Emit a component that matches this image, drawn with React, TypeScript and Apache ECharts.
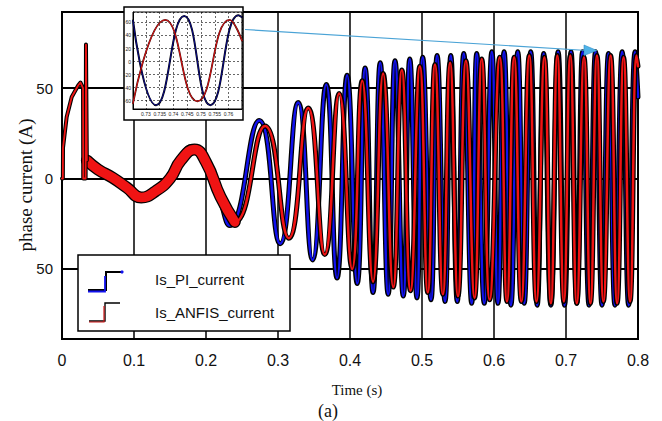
import React, { useEffect, useRef } from 'react';
import * as echarts from 'echarts';

// ---- data ----
// shared start-up transient (both controllers coincide), time (s) / current (A)
const START_T = [0, 0.0012, 0.0014, 0.0065, 0.0135, 0.0226, 0.0257, 0.0292, 0.0295, 0.0328, 0.0333, 0.0345];
const START_V = [0, 0, 17, 34, 45, 51.5, 53, 50, 0, 0, 74, 10];

// Is_PI_current after start-up (points and extrema)
const PI_T = [0.0345, 0.05, 0.07, 0.09, 0.11, 0.13, 0.15, 0.165, 0.18, 0.2, 0.218, 0.233, 0.274, 0.303, 0.328, 0.348,
  0.367, 0.382, 0.396, 0.41, 0.421, 0.432, 0.442, 0.453, 0.4625, 0.474, 0.483, 0.493, 0.501, 0.5125, 0.521, 0.532,
  0.54, 0.549, 0.558, 0.569, 0.576, 0.5865, 0.597, 0.6055, 0.614, 0.6235, 0.633, 0.642, 0.651, 0.66, 0.669, 0.679,
  0.689, 0.698, 0.707, 0.715, 0.723, 0.732, 0.741, 0.75, 0.759, 0.768, 0.778, 0.787, 0.796, 0.8];
const PI_V = [10, 5, 0, -5.5, -11, -7, 1, 12, 17.5, 8, -10, -26, 32, -36, 42, -45,
  52, -55, 57, -58, 61, -63, 64, -64, 65, -65, 66, -66, 67, -67, 68, -68,
  68, -68, 69, -69, 69, -69, 70, -69, 70, -70, 70, -69, 70, -70, 69, -70,
  70, -70, 70, -69, 70, -70, 70, -70, 69, -70, 70, -70, 70, 45];

// Is_ANFIS_current after start-up
const ANFIS_T = [0.0345, 0.05, 0.07, 0.09, 0.11, 0.13, 0.15, 0.165, 0.184, 0.2, 0.22, 0.24, 0.282, 0.315, 0.342, 0.365,
  0.385, 0.403, 0.417, 0.432, 0.446, 0.46, 0.472, 0.484, 0.497, 0.508, 0.518, 0.529, 0.539, 0.55, 0.561, 0.573,
  0.583, 0.594, 0.608, 0.618, 0.628, 0.638, 0.649, 0.659, 0.67, 0.679, 0.688, 0.697, 0.706, 0.715, 0.725, 0.734,
  0.743, 0.752, 0.762, 0.771, 0.78, 0.789, 0.798, 0.8];
const ANFIS_V = [10, 5, 0.5, -5, -10.5, -7, 0, 10, 16, 9, -10, -24, 29, -33, 39, -42,
  47, -50, 54, -57, 58, -60, 60, -62, 62, -63, 63, -64, 64, -65, 65, -66,
  66, -67, 67, -68, 67, -68, 68, -68, 67, -69, 68, -68, 68, -69, 67, -69,
  68, -68, 68, -69, 67, -68, 68, 62];
// end of the wide ripple band of the ANFIS trace
const BAND_END = 0.245;

// zoomed inset (0.725 - 0.765 s)
const INSET_PI_T = [0.7253, 0.7337, 0.7439, 0.7534, 0.7636, 0.7649];
const INSET_PI_V = [63, -67, 70, -67, 71, 68];
const INSET_ANFIS_T = [0.7253, 0.737, 0.7487, 0.7604, 0.7649];
const INSET_ANFIS_V = [-64, 64, -61, 64, 32];

const SERIES_NAMES = ['Is_PI_current', 'Is_ANFIS_current'];
const Y_NAME = 'phase current (A)';
const X_NAME = 'Time (s)';
const CAPTION = '(a)';

const BLUE = '#1212ee';
const RED = '#f01414';

const zip = (t: number[], v: number[]) => t.map((x, i) => [x, v[i]]);

export default function App() {
  const ref = useRef<HTMLDivElement>(null);
  useEffect(() => {
    if (!ref.current) return;
    const chart = echarts.init(ref.current, undefined, { renderer: 'svg' });
    const start = zip(START_T, START_V);
    const pi = zip(PI_T, PI_V);
    const anfis = zip(ANFIS_T, ANFIS_V);
    const band = anfis.filter((p) => p[0] <= BAND_END);
    const line = (name: string, data: number[][], color: string, width: number, z: number, smooth: boolean | number, xi = 0) => ({
      type: 'line', name, data, xAxisIndex: xi, yAxisIndex: xi, showSymbol: false, symbol: 'none', smooth,
      silent: true, z, lineStyle: { color, width, cap: 'round', join: 'round' },
    });
    const serif = 'Liberation Serif, Times New Roman, serif';
    const sans = 'Liberation Sans, Arial, sans-serif';
    chart.setOption({
      animation: false,
      backgroundColor: '#fff',
      grid: [
        { left: 62, top: 12, width: 576, height: 327, show: true, borderColor: '#000', borderWidth: 2, backgroundColor: 'transparent' },
        { left: 133, top: 12, width: 109, height: 97, show: true, borderColor: '#000', borderWidth: 1, backgroundColor: 'transparent', z: 3 },
      ],
      xAxis: [
        {
          type: 'value', gridIndex: 0, min: 0, max: 0.8, interval: 0.1,
          axisLine: { onZero: false, lineStyle: { color: '#000', width: 2 } }, axisTick: { show: false },
          axisLabel: { fontSize: 16, color: '#111', fontFamily: sans, margin: 13, formatter: (v: number) => String(+v.toFixed(1)) },
          splitLine: { show: true, lineStyle: { color: '#000', width: 1.5 } },
        },
        {
          type: 'value', gridIndex: 1, min: 0.7253, max: 0.7649, splitNumber: 8, z: 3,
          axisLine: { onZero: false, lineStyle: { color: '#000', width: 1 } }, axisTick: { show: false },
          axisLabel: { fontSize: 5, color: '#222', fontFamily: sans, margin: 2, showMinLabel: false, showMaxLabel: false,
            formatter: (v: number) => String(+v.toFixed(3)) },
          splitLine: { show: true, lineStyle: { color: '#000', width: 0.6, type: [2, 2] } },
        },
      ],
      yAxis: [
        {
          type: 'value', gridIndex: 0, min: -88.7, max: 92, splitNumber: 4,
          axisLine: { onZero: false, lineStyle: { color: '#000', width: 2 } }, axisTick: { show: false },
          axisLabel: { fontSize: 15, color: '#111', fontFamily: sans, margin: 9, showMinLabel: false, showMaxLabel: false,
            formatter: (v: number) => String(Math.abs(v)) },
          splitLine: { show: true, lineStyle: { color: '#000', width: 2 } },
        },
        {
          type: 'value', gridIndex: 1, min: -72.8, max: 76, splitNumber: 7, z: 3,
          axisLine: { onZero: false, lineStyle: { color: '#000', width: 1 } }, axisTick: { show: false },
          axisLabel: { fontSize: 5, color: '#222', fontFamily: sans, margin: 2, showMinLabel: false, showMaxLabel: false },
          splitLine: { show: true, lineStyle: { color: '#000', width: 0.6, type: [2, 2] } },
        },
      ],
      series: [
        line(SERIES_NAMES[0] + ' outline', pi, '#000', 5, 2, 0.5),
        line(SERIES_NAMES[0], pi, BLUE, 2.5, 2, 0.5),
        line(SERIES_NAMES[1] + ' band outline', band, '#000', 12, 2, 0.5),
        line(SERIES_NAMES[1] + ' outline', anfis, '#000', 5, 2, 0.5),
        line(SERIES_NAMES[1] + ' band', band, RED, 9.5, 2, 0.5),
        line(SERIES_NAMES[1], anfis, RED, 2.5, 2, 0.5),
        line('start outline', start, '#000', 4, 2, false),
        line('start', start, RED, 1.8, 2, false),
        line(SERIES_NAMES[0] + ' inset outline', zip(INSET_PI_T, INSET_PI_V), '#000', 2, 4, 0.5, 1),
        line(SERIES_NAMES[0] + ' inset', zip(INSET_PI_T, INSET_PI_V), BLUE, 0.6, 4, 0.5, 1),
        line(SERIES_NAMES[1] + ' inset outline', zip(INSET_ANFIS_T, INSET_ANFIS_V), '#3a0a0a', 1.8, 4, 0.5, 1),
        line(SERIES_NAMES[1] + ' inset', zip(INSET_ANFIS_T, INSET_ANFIS_V), RED, 0.9, 4, 0.5, 1),
      ],
      graphic: [
        { type: 'rect', z: 1, shape: { x: 124, y: 7, width: 119, height: 113 }, style: { fill: '#fff', stroke: '#000', lineWidth: 1.5 } },
        { type: 'line', z: 10, shape: { x1: 245, y1: 29.5, x2: 587, y2: 50.5 }, style: { stroke: '#4aa3d6', lineWidth: 1.2 } },
        { type: 'polygon', z: 10, shape: { points: [[584, 45], [597, 50.5], [584, 55.5]] }, style: { fill: '#4fb3e8', stroke: '#2f8fc8', lineWidth: 0.6 } },
        // legend
        { type: 'rect', z: 10, shape: { x: 78, y: 255, width: 212, height: 76 }, style: { fill: '#fff', stroke: '#000', lineWidth: 1.5 } },
        { type: 'polyline', z: 11, shape: { points: [[88, 290], [106, 290], [106, 272], [122, 272]] }, style: { stroke: '#000', lineWidth: 2, fill: null } },
        { type: 'polyline', z: 12, shape: { points: [[88, 291.5], [105, 291.5], [105, 276]] }, style: { stroke: BLUE, lineWidth: 1.8, fill: null } },
        { type: 'circle', z: 12, shape: { cx: 122, cy: 272, r: 1.6 }, style: { fill: BLUE } },
        { type: 'polyline', z: 11, shape: { points: [[89, 321], [105, 321], [105, 303], [120, 303]] }, style: { stroke: '#000', lineWidth: 1.4, fill: null } },
        { type: 'polyline', z: 12, shape: { points: [[89, 322], [104, 322], [104, 306]] }, style: { stroke: '#d01818', lineWidth: 1.2, fill: null } },
        { type: 'text', z: 12, style: { text: SERIES_NAMES[0], x: 155, y: 279, fontSize: 15, fontFamily: sans, fill: '#111', verticalAlign: 'middle' } },
        { type: 'text', z: 12, style: { text: SERIES_NAMES[1], x: 155, y: 312, fontSize: 15, fontFamily: sans, fill: '#111', verticalAlign: 'middle' } },
        // axis titles & caption
        { type: 'text', z: 12, x: 25, y: 185, rotation: Math.PI / 2,
          style: { text: Y_NAME, x: 0, y: 0, fontSize: 19, fontFamily: serif, fill: '#111', align: 'center', verticalAlign: 'middle' } },
        { type: 'text', z: 12, style: { text: X_NAME, x: 357, y: 390, fontSize: 15, fontFamily: serif, fill: '#111', align: 'center', verticalAlign: 'middle' } },
        { type: 'text', z: 12, style: { text: CAPTION, x: 328, y: 411, fontSize: 18, fontFamily: serif, fill: '#111', align: 'center', verticalAlign: 'middle' } },
      ],
    });
    return () => chart.dispose();
  }, []);
  return <div ref={ref} style={{ position: 'fixed', left: 0, top: 0, width: 662, height: 421, background: '#fff' }} />;
}
